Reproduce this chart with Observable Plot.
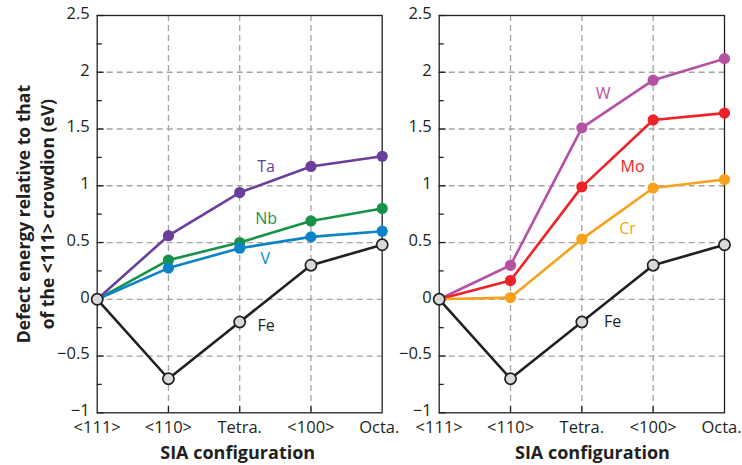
<!DOCTYPE html>
<html><head><meta charset="utf-8">
<script src="https://cdn.jsdelivr.net/npm/d3@7"></script>
<script src="https://cdn.jsdelivr.net/npm/@observablehq/plot@0.6"></script>
<style>
body{margin:0;background:#fff;}
#wrap{display:flex;width:742px;height:465px;overflow:hidden;}
</style></head><body><div id="wrap"></div>
<script>
// categories (SIA configurations)
const configs = ["<111>", "<110>", "Tetra.", "<100>", "Octa."];
// series values (eV, relative to <111> crowdion)
const fe = [0, -0.70, -0.20, 0.30, 0.48];
const ta = [0, 0.56, 0.94, 1.17, 1.26];
const nb = [0, 0.345, 0.50, 0.69, 0.80];
const v  = [0, 0.275, 0.45, 0.55, 0.60];
const w  = [0, 0.30, 1.51, 1.93, 2.12];
const mo = [0, 0.165, 0.99, 1.58, 1.64];
const cr = [0, 0.015, 0.53, 0.98, 1.055];
// tick values
const yTicks = [-1, -0.5, 0, 0.5, 1, 1.5, 2, 2.5];
const yMinor = [-0.75, -0.25, 0.25, 0.75, 1.25, 1.75, 2.25];
// series names / colors
const leftNames = ["Ta", "Nb", "V", "Fe"];
const rightNames = ["W", "Mo", "Cr", "Fe"];
const colorOf = {Ta: "#6a3f9c", Nb: "#18924a", V: "#0b83c8", W: "#b451a3", Mo: "#ee2229", Cr: "#f8a21c", Fe: "#231f20"};
// in-plot label anchors (category index, value)
const leftLabels = [
  {name: "Ta", at: 2.37, value: 1.164},
  {name: "Nb", at: 2.37, value: 0.71},
  {name: "V",  at: 2.36, value: 0.36},
  {name: "Fe", at: 2.37, value: -0.23}
];
const rightLabels = [
  {name: "W",  at: 2.30, value: 1.81},
  {name: "Mo", at: 2.71, value: 1.164},
  {name: "Cr", at: 2.64, value: 0.62},
  {name: "Fe", at: 2.43, value: -0.20}
];
const yTitle = "Defect energy relative to that\nof the <111> crowdion (eV)";
const xTitle = "SIA configuration";

const FONT = "'Open Sans', 'Noto Sans', sans-serif";
const INK = "#231f20";
const GRID = "#a3a3a3";

function panel(series, labels, o) {
  const rows = series.flatMap(s => s.values.map((val, i) => ({series: s.name, i, value: val})));
  const seriesMarks = series.flatMap(s => {
    const d = rows.filter(r => r.series === s.name);
    const isFe = s.name === "Fe";
    return [
      Plot.line(d, {x: "i", y: "value", stroke: colorOf[s.name], strokeWidth: 2.6}),
      Plot.dot(d, {x: "i", y: "value", r: 5.6,
        fill: isFe ? "#d9d9d9" : colorOf[s.name],
        stroke: isFe ? INK : "none", strokeWidth: isFe ? 1.7 : 0})
    ];
  });
  const marks = [
    Plot.ruleY(yTicks.filter(t => t > -1 && t < 2.5), {stroke: GRID, strokeDasharray: "6,4", strokeWidth: 1.3}),
    Plot.ruleX([1, 2, 3], {stroke: GRID, strokeDasharray: "6,4", strokeWidth: 1.3}),
    Plot.axisY({ticks: yTicks, tickSize: -7, tickFormat: () => "", label: null, stroke: INK, strokeWidth: 1.3}),
    Plot.axisY({ticks: yTicks, tickSize: 0, tickPadding: 7.5, dy: -2, tickFormat: d => d3.format("")(d).replace("-", "\u2212"), label: null}),
    Plot.axisY({ticks: yMinor, tickSize: -5, tickFormat: () => "", label: null, stroke: INK, strokeWidth: 1.3}),
    Plot.axisX({ticks: [0, 1, 2, 3], tickSize: 0, tickPadding: 8, tickFormat: i => configs[i], label: null}),
    Plot.axisX({ticks: [4], tickSize: 0, tickPadding: 8, dx: -3, tickFormat: i => configs[i], label: null}),
    Plot.axisX({ticks: [1, 2, 3], tickSize: -6, tickFormat: () => "", label: null, stroke: INK, strokeWidth: 1.3}),
    Plot.frame({stroke: INK, strokeWidth: 1.3}),
    ...seriesMarks,
    Plot.text(labels, {x: "at", y: "value", text: "name", fill: d => colorOf[d.name], fontSize: 16}),
    Plot.text([xTitle], {frameAnchor: "bottom", lineAnchor: "middle", dy: 40, dx: o.titleDx, fontWeight: "bold", fontSize: 18, fill: INK})
  ];
  if (o.yTitle) {
    marks.push(Plot.text([yTitle], {frameAnchor: "left", textAnchor: "middle", dx: -63, rotate: -90, fontWeight: "bold", fontSize: 17.5, lineHeight: 1.4, fill: INK}));
  }
  const svg = Plot.plot({
    width: o.width, height: 465,
    marginLeft: o.ml, marginRight: o.mr, marginTop: 15, marginBottom: 52.7,
    x: {type: "linear", domain: [0, 4]},
    y: {domain: [-1, 2.5]},
    style: {fontFamily: FONT, fontSize: "16px", color: INK, background: "#fff", overflow: "visible"},
    marks
  });
  d3.select(svg).selectAll('g[aria-label$="tick label"]').attr("font-size", null).style("font-size", "16.5px");
  return svg;
}

const wrap = document.getElementById("wrap");
wrap.append(panel(
  leftNames.map(n => ({name: n, values: {Ta: ta, Nb: nb, V: v, Fe: fe}[n]})),
  leftLabels, {width: 400, ml: 96.7, mr: 18.3, titleDx: -2, yTitle: true}));
wrap.append(panel(
  rightNames.map(n => ({name: n, values: {W: w, Mo: mo, Cr: cr, Fe: fe}[n]})),
  rightLabels, {width: 342, ml: 38.7, mr: 18, titleDx: 10.6, yTitle: false}));
</script></body></html>
